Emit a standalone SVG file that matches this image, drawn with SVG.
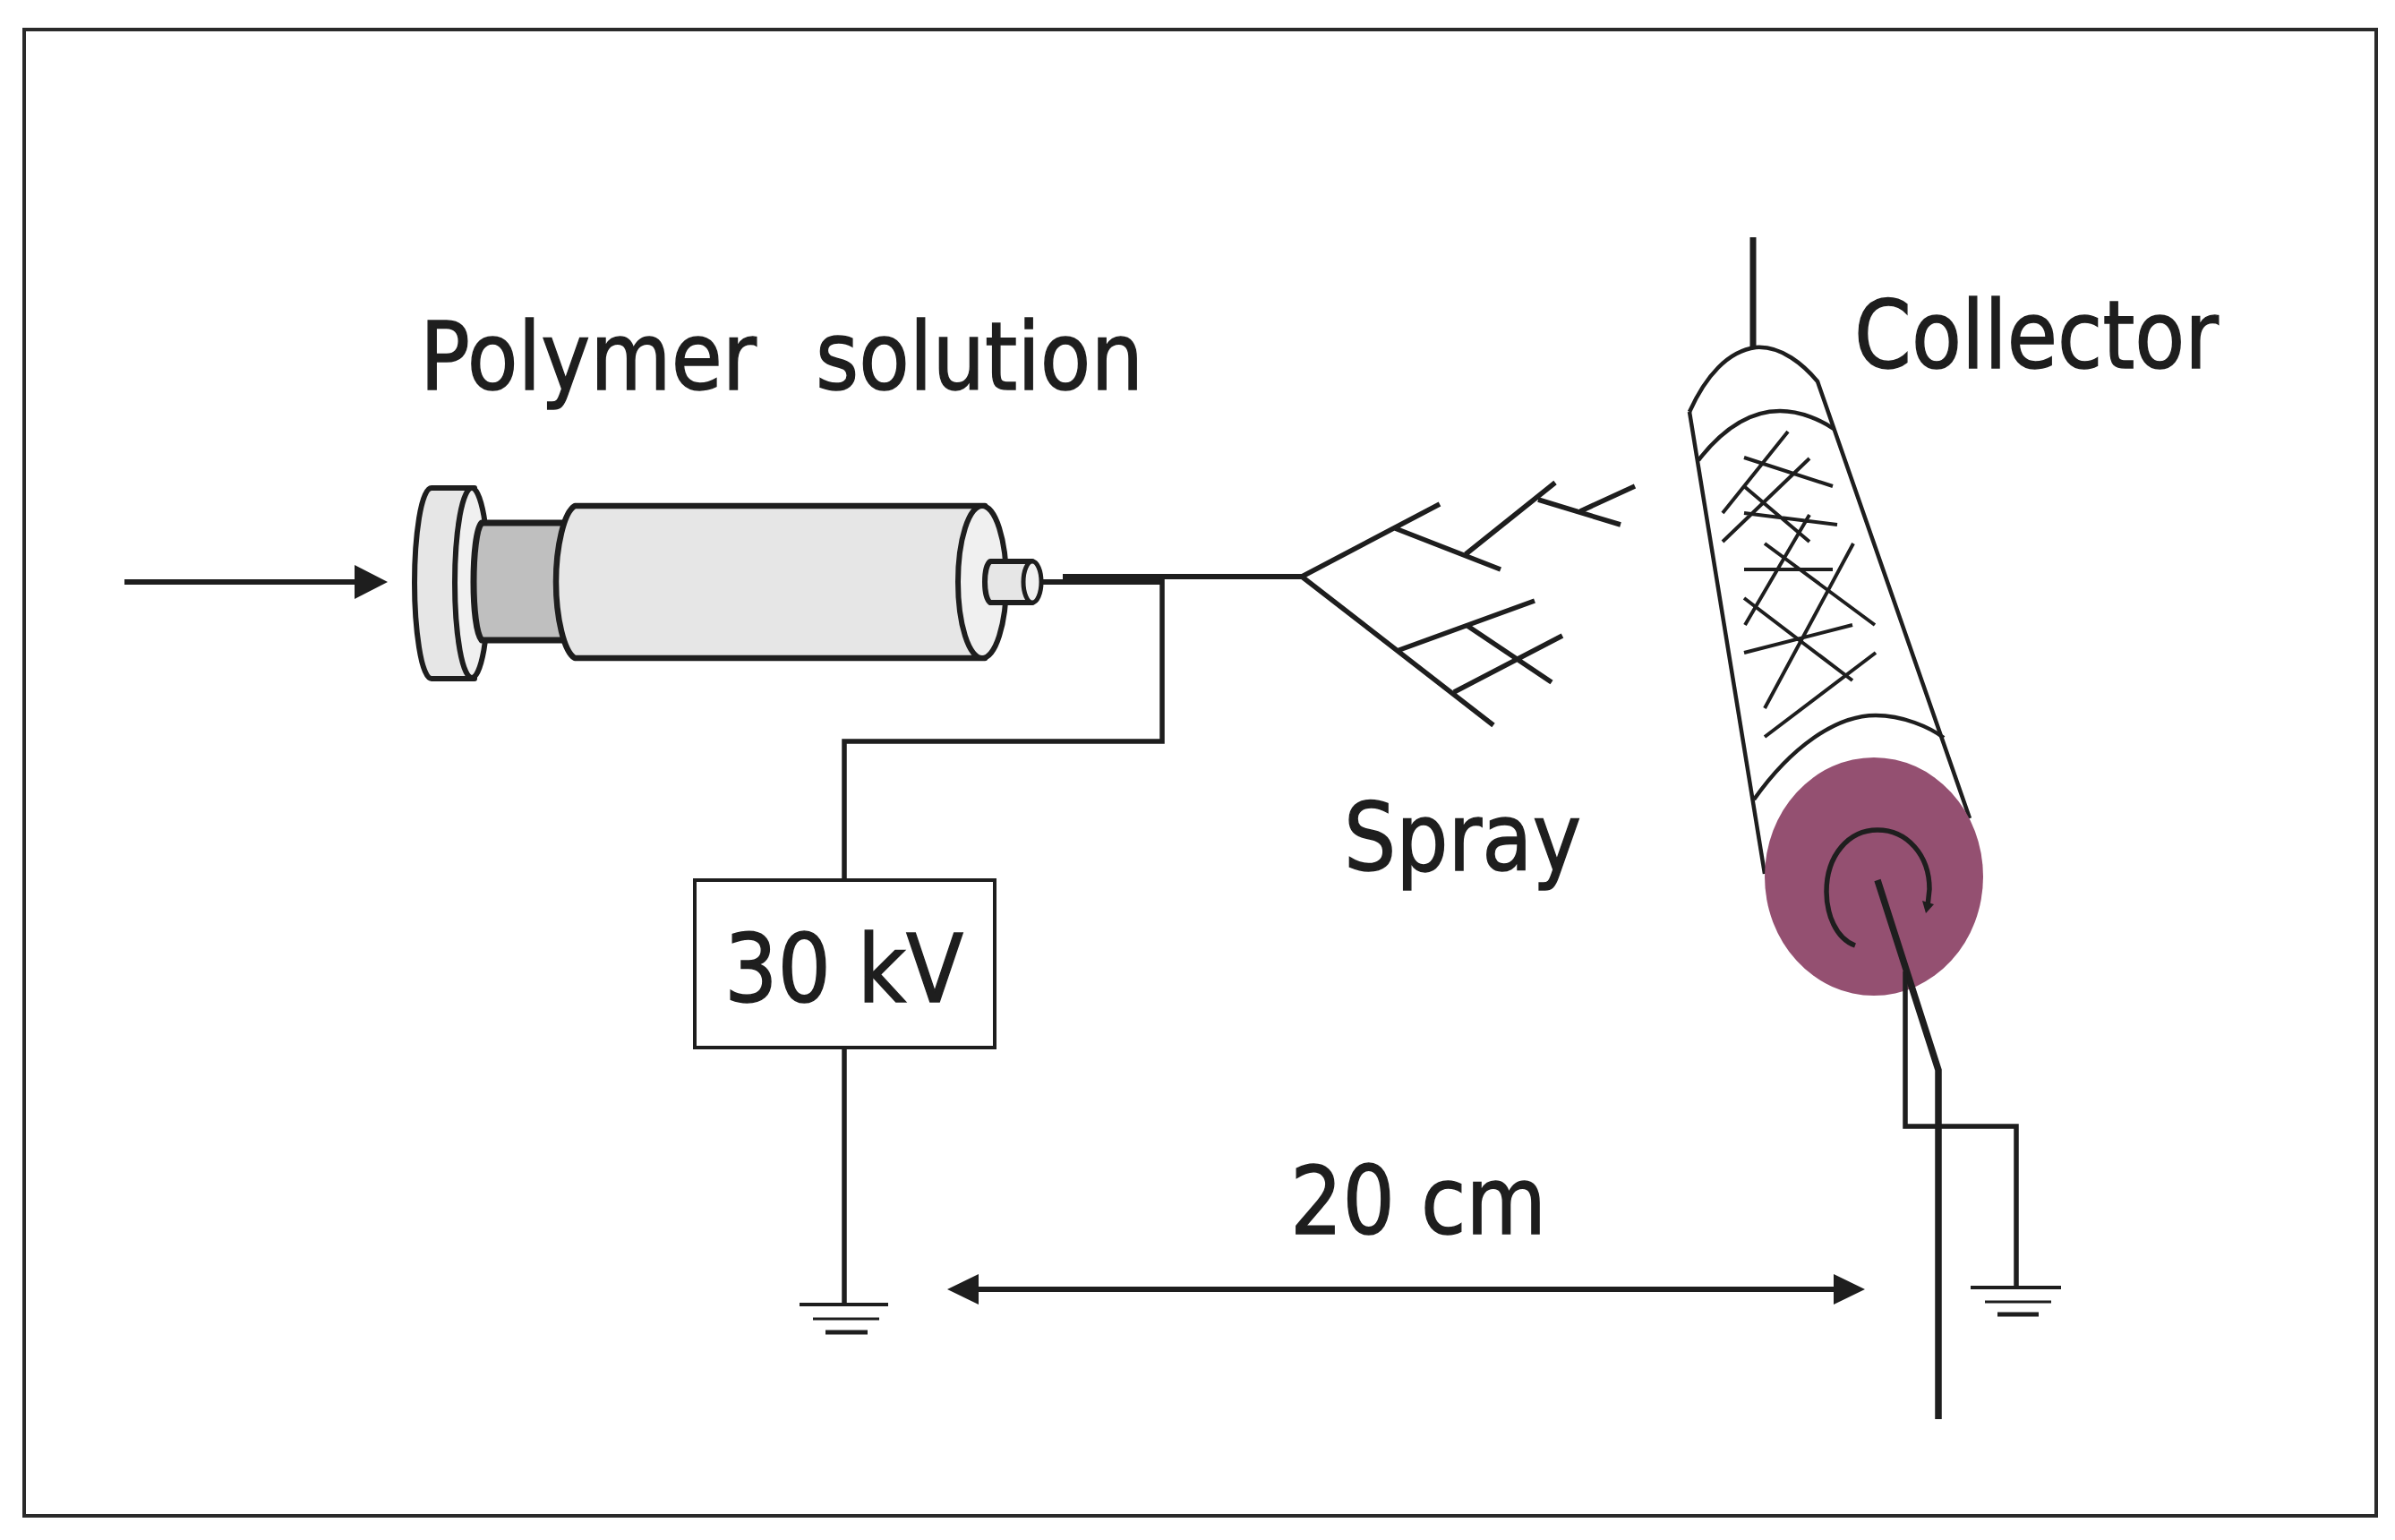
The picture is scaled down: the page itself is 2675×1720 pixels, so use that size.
<svg xmlns="http://www.w3.org/2000/svg" width="2675" height="1720" viewBox="0 0 2675 1720">
<style>
.l{fill:none;stroke:#1e1e1e;stroke-width:5.500;stroke-linecap:butt;stroke-linejoin:miter}
.c{fill:none;stroke:#1e1e1e;stroke-width:4.500;stroke-linejoin:miter}
.s{fill:none;stroke:#1e1e1e;stroke-width:6;stroke-linejoin:round}
.f{fill:none;stroke:#1e1e1e;stroke-width:4}
.t{font-family:"DejaVu Sans",Verdana,sans-serif;font-size:106px;fill:#1e1e1e;stroke:#1e1e1e;stroke-width:1.500}
.a{fill:#1e1e1e;stroke:none}
</style>
<defs>
<marker id="ah" markerUnits="userSpaceOnUse" markerWidth="38" markerHeight="40" refX="2" refY="19" orient="auto"><path class="a" d="M0,0L37,19L0,38Z"/></marker>
<marker id="dh" markerUnits="userSpaceOnUse" markerWidth="36" markerHeight="36" refX="2" refY="17" orient="auto-start-reverse"><path class="a" d="M0,0L35,17L0,34Z"/></marker>
</defs>
<rect width="2675" height="1720" fill="#fff"/>
<rect id="frame" x="27" y="33" width="2627" height="1660" fill="none" stroke="#2a2a2a" stroke-width="4"/>
<g id="syringe">
<path class="s" style="fill:#e6e6e6" d="M482,545H530V758H482C470,758 463,700 463,651C463,600 470,545 482,545Z"/>
<ellipse class="s" style="fill:#f0f0f0" cx="527" cy="651" rx="19" ry="106"/>
<path class="s" style="fill:#bfbfbf;stroke-width:7" d="M640,584H538C532,590 529,620 529,650C529,680 532,708 538,715H640Z"/>
<path class="s" style="fill:#e6e6e6;stroke-width:6.500" d="M642,565H1100V735H642C630,728 621,690 621,650C621,610 630,572 642,565Z"/>
<ellipse class="s" style="fill:#f0f0f0" cx="1097" cy="650" rx="27" ry="85"/>
<path class="s" style="fill:#e6e6e6" d="M1106,627H1153V673H1106C1102,670 1100,660 1100,650C1100,640 1102,630 1106,627Z"/>
<ellipse class="s" style="fill:#f0f0f0;stroke-width:5" cx="1153" cy="650" rx="10" ry="23"/>
</g>
<g id="collector">
<path class="c" d="M1887,460C1905,420 1930,392 1961,388C1990,386 2015,408 2030,426L2200,914"/>
<path class="c" d="M1887,460L1971,976"/>
<path class="c" d="M1897,514C1925,478 1955,459 1988,459C2012,459 2035,470 2048,479"/>
<path class="c" d="M1959,893C2000,835 2050,799 2095,799C2125,799 2155,812 2171,824"/>
<path class="f" d="M1997,482L1924,573M1948,511L2047,543M2021,512L1924,605M1949,544L2021,605M1948,573L2052,586M2021,575L1949,698M1971,607L2094,698M1948,636H2047M2070,607L1971,791M1948,668L2069,760M1948,729L2069,698M2095,729L1971,823"/>
<ellipse cx="2093" cy="979" rx="122" ry="133" fill="#945071"/>
<path class="l" d="M2072,1056C2050,1048 2040,1020 2040,996C2040,955 2065,927 2097,927C2130,927 2155,955 2155,993L2153,1012"/>
<path class="a" d="M2147,1006L2160,1010L2151,1020Z"/>
</g>
<g id="connectors">
<path class="l" style="stroke-width:6" d="M1162,650H1190"/>
<path class="l" style="stroke-width:6" d="M1187,644H1454"/>
<path class="l" style="stroke-width:11" d="M1187,647.500H1300"/>
<path class="l" d="M1298,644V828H943V983"/>
<path class="l" d="M943,1170V1458"/>
<path class="l" d="M1454,644L1608,563M1558,590L1676,636M1637,619L1737,539M1718,558L1810,586M1765,571L1826,543M1454,644L1668,810M1560,727L1714,671M1639,699L1733,762M1624,773L1745,710"/>
<path class="l" style="stroke-width:7" d="M1958,265V388"/>
<path class="l" style="stroke-width:7.500" d="M2097,983L2165,1195V1585"/>
<path class="l" d="M2128,1085V1258H2252V1438"/>
<path class="l" style="stroke-width:6" d="M139,650H398" marker-end="url(#ah)"/>
<path class="l" style="stroke-width:6" d="M1091,1440H2050" marker-start="url(#dh)" marker-end="url(#dh)"/>
</g>
<g id="ground-left" class="l" style="stroke-width:4">
<path d="M893,1457H992"/><path style="stroke-width:3" d="M908,1473H982"/><path style="stroke-width:5" d="M922,1488H969"/>
</g>
<g id="ground-right" class="l" style="stroke-width:4">
<path d="M2201,1438H2302"/><path style="stroke-width:3" d="M2217,1454H2291"/><path style="stroke-width:5" d="M2231,1468H2277"/>
</g>
<g id="power">
<rect x="776" y="983" width="335" height="187" fill="#fff" stroke="#1e1e1e" stroke-width="4"/>
<text class="t" x="809" y="1119" textLength="267" lengthAdjust="spacingAndGlyphs">30 kV</text>
</g>
<g id="labels">
<text class="t" x="469" y="435" textLength="376" lengthAdjust="spacingAndGlyphs">Polymer</text>
<text class="t" x="911" y="435" textLength="366" lengthAdjust="spacingAndGlyphs">solution</text>
<text class="t" x="2071" y="411" textLength="407" lengthAdjust="spacingAndGlyphs">Collector</text>
<text class="t" x="1501" y="972" textLength="265" lengthAdjust="spacingAndGlyphs">Spray</text>
<text class="t" x="1441" y="1378" textLength="286" lengthAdjust="spacingAndGlyphs">20 cm</text>
</g>
</svg>
